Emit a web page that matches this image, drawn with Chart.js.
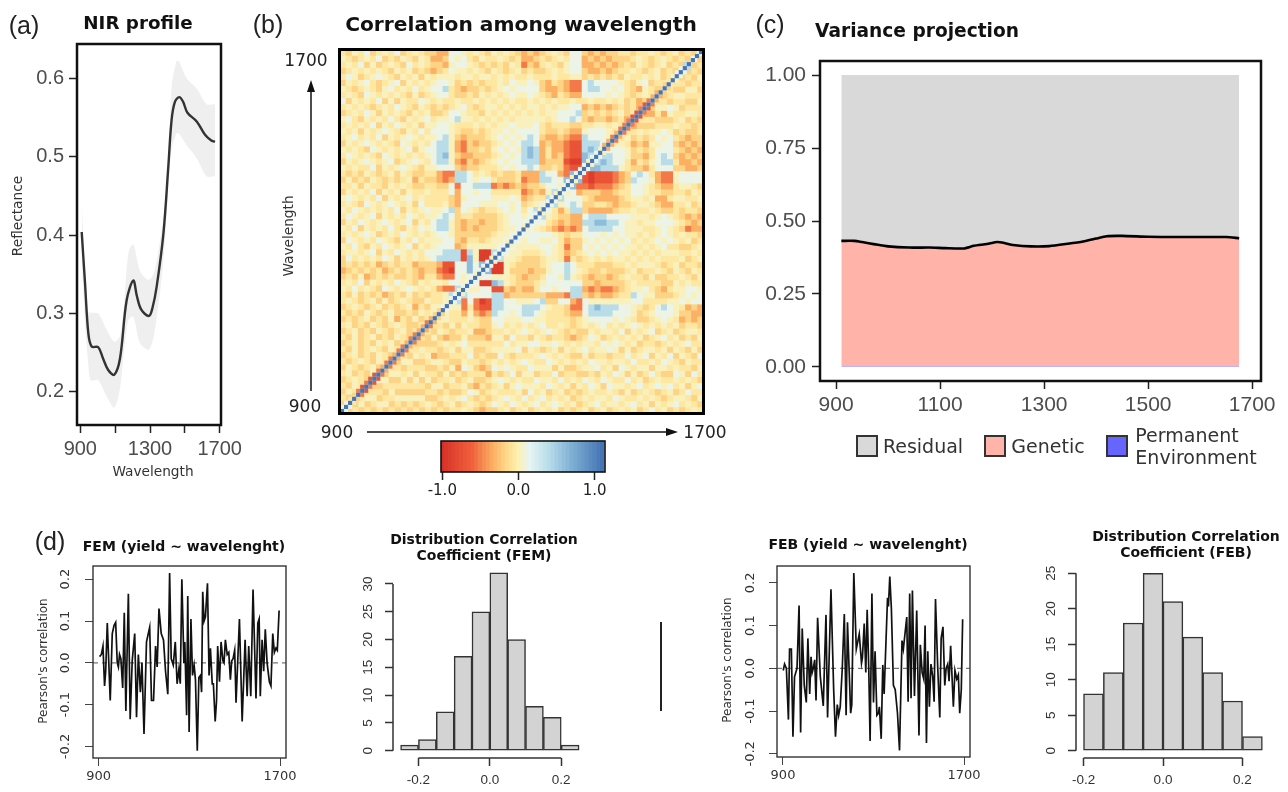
<!DOCTYPE html>
<html>
<head>
<meta charset="utf-8">
<title>NIR profile panels</title>
<script src="https://cdn.jsdelivr.net/npm/chart.js@4"></script>
<style>
  html, body { margin: 0; background: #fff; }
  #page { position: relative; width: 1288px; height: 792px; overflow: hidden; filter: blur(0.35px); }
  canvas { position: absolute; }
  .txt { position: absolute; white-space: nowrap; transform: translate(-50%, -50%); color: #222; line-height: 1; }
  .swatch { position: absolute; box-sizing: border-box; border: 2px solid #333; }
  .heatframe { position: absolute; box-sizing: border-box; border: 3.5px solid #000; }
</style>
</head>
<body>
<div id="page"></div>
<script>
// (a) NIR profile
const nirWavelength = [908, 927, 946, 965, 1003, 1030, 1060, 1095, 1128, 1166, 1204, 1225, 1250, 1294, 1315, 1338, 1377, 1405, 1424, 1443, 1468, 1490, 1515, 1568, 1616, 1650, 1673];
const nirMean = [0.404, 0.339, 0.275, 0.258, 0.257, 0.243, 0.228, 0.222, 0.243, 0.317, 0.342, 0.322, 0.305, 0.297, 0.308, 0.334, 0.402, 0.487, 0.547, 0.570, 0.576, 0.570, 0.556, 0.545, 0.528, 0.521, 0.519];
const nirBandWavelength = [908, 930, 946, 960, 1003, 1050, 1095, 1128, 1150, 1176, 1204, 1243, 1294, 1328, 1377, 1405, 1424, 1453, 1468, 1510, 1568, 1625, 1673];
const nirUpper = [0.445, 0.33, 0.302, 0.301, 0.30, 0.28, 0.264, 0.272, 0.31, 0.377, 0.388, 0.354, 0.343, 0.356, 0.424, 0.49, 0.589, 0.622, 0.621, 0.60, 0.587, 0.567, 0.567];
const nirLower = [0.368, 0.28, 0.235, 0.215, 0.215, 0.195, 0.18, 0.205, 0.25, 0.292, 0.296, 0.262, 0.254, 0.279, 0.368, 0.462, 0.509, 0.530, 0.529, 0.515, 0.498, 0.475, 0.475];
const nirXTicks = [900, 1100, 1300, 1500, 1700];
const nirXLabels = ['900', '', '1300', '', '1700'];
const nirYTicks = [0.2, 0.3, 0.4, 0.5, 0.6];

// (b) correlation, coarse cells read row by row from the top of the picture,
// only the part left of the diagonal (the matrix is symmetric)
const corrLevels = [-0.9, -0.72, -0.52, -0.33, -0.17, -0.06, 0.03, 0.12, 0.4, 0.62, 1.1];
const corrRows = [
  '546574565745654 433 776 5654 65654 343 4565 477 4343445 545565456454',
  '654565745465465 334 767 5465 56545 334 5456 577 3434344 45654565454',
  '565746456547565 443 677 6545 45465 243 5654 677 3343434 5465456454',
  '456565654656454 345 766 5654 65456 454 4565 677 4334345 565456454',
  '576456765465646 566 656 6566 56565 565 5565 566 4545454 65565645',
  '465675456746565 677 645 4545 56576 676 4354 322 7877776 5467455',
  '654565467565756 778 543 4454 56767 777 4334 322 7887767 543654',
  '565476565654645 677 544 5465 65676 676 5435 433 7777676 54565',
  '746565746465576 565 565 5656 56565 565 6565 565 5655656 4534',
  '565654565765465 454 567 5456 65656 566 5656 677 3434345 453',
  '456576465654656 445 776 5546 56565 656 5667 778 4545456 45',
  '675465657546567 566 786 6565 65656 666 6567 787 4344345 3',
  '565657465765646 677 655 5656 56676 667 5455 544 5566565',
  '656465676546575 777 654 4545 66767 777 5445 433 677765',
  '567565746567656 678 643 4445 67676 787 4334 322 87776',
  '465676565476565 788 632 4344 56767 887 3433 211 8887',
  '656547656567467 788 632 4454 67676 898 3533 211 898',
  '576565476565656 789 643 3444 56767 898 3534 211 98',
  '465676567456765 788 632 4345 67677 888 3444 100 9',
  '656557465676546 677 743 4455 56767 787 4454 211',
  '545465456465445 532 288 7565 45445 333 8773 29',
  '464546545456354 432 388 7677 54445 233 8877 9',
  '556465546565445 544 727 7888 23234 344 5776',
  '465657465646556 555 737 7677 55555 234 368',
  '676565746567565 555 436 7777 66676 345 58',
  '565476567656475 556 437 7766 67767 456 7',
  '657656565746567 667 847 6545 56767 578',
  '576567465657656 678 745 5444 45677 67',
  '465765676567465 788 643 4434 45677 7',
  '657465657546576 788 643 4344 45667',
  '565676456576565 677 644 4444 5667',
  '476565765465756 667 743 5545 667',
  '657546576567465 677 734 6666 67',
  '566567465765657 778 881 8600 8',
  '475656576465656 788 881 9600',
  '454545345455344 431 177 979',
  '345454534545434 421 077 97',
  '454634545445435 532 276 7',
  '565746565765465 665 776',
  '657565476567656 532 28',
  '546454534546454 556 8',
  '565456464565446 556',
  '456545645456354 66',
  '545465456445465 6',
  '454564546354645',
  '56454654565445',
  '4564546545645',
  '546456454654',
  '45645465645',
  '5464565465',
  '456454654',
  '54565465',
  '4654564',
  '564546',
  '45654',
  '5465',
  '465',
  '54',
  '4'
];
// coarse cells on the diagonal, and the few cells that are not mirrored
const corrCoarseDiagonal = '777777777777777777777779977777777888889977777777777777777777';
const corrUnmirrored = [[23, 21, '0'], [24, 21, '0']];
const corrDiagonal = 'aaaaaaaaaaaaaaaaaaaaaaaaaaaaaaaaaaaaaaaaaaaaaaaaaaaaaaaaaaaaaaaaaaaaaaaaaaaaaaaaaaaaaaaaaaaaaa';
const corrNearDiagonal = '77542121123223223223323447677677767776777677767776777677767776776332322211212334456778';
const colorbarValues = [-1, -0.95, -0.9, -0.85, -0.8, -0.75, -0.7, -0.65, -0.6, -0.55, -0.5, -0.45, -0.4, -0.35, -0.3, -0.25, -0.2, -0.15, -0.1, -0.05, 0, 0.05, 0.1, 0.15, 0.2, 0.25, 0.3, 0.35, 0.4, 0.45, 0.5, 0.55, 0.6, 0.65, 0.7, 0.75, 0.8, 0.85, 0.9, 0.95, 1, 1.05, 1.1];
const colorbarTicks = [-1, 0, 1];
const colorbarLabels = ['-1.0', '0.0', '1.0'];

// (c) variance projection
const varWavelength = [910, 935, 950, 975, 1000, 1040, 1080, 1110, 1145, 1165, 1190, 1210, 1225, 1240, 1275, 1310, 1345, 1375, 1400, 1420, 1450, 1500, 1550, 1600, 1650, 1675];
const permanentShare = [0.003, 0.003, 0.003, 0.003, 0.003, 0.003, 0.003, 0.003, 0.003, 0.003, 0.003, 0.003, 0.003, 0.003, 0.003, 0.003, 0.003, 0.003, 0.003, 0.003, 0.003, 0.003, 0.003, 0.003, 0.003, 0.003];
const geneticShare = [0.429, 0.429, 0.425, 0.417, 0.410, 0.406, 0.406, 0.404, 0.403, 0.412, 0.418, 0.425, 0.421, 0.415, 0.410, 0.411, 0.419, 0.427, 0.437, 0.445, 0.446, 0.443, 0.442, 0.442, 0.442, 0.438];
const residualShare = [0.568, 0.568, 0.572, 0.580, 0.587, 0.591, 0.591, 0.593, 0.594, 0.585, 0.579, 0.572, 0.576, 0.582, 0.587, 0.586, 0.578, 0.570, 0.560, 0.552, 0.551, 0.554, 0.555, 0.555, 0.555, 0.559];
const varXTicks = [900, 1100, 1300, 1500, 1700];
const varYTicks = [0, 0.25, 0.5, 0.75, 1];
const varYLabels = ['0.00', '0.25', '0.50', '0.75', '1.00'];

// (d) yield correlation by wavelength
const femWavelength = [904, 912, 919, 926, 931, 938, 951, 960, 968, 975, 982, 987, 992, 998, 1006, 1013, 1020, 1031, 1039, 1048, 1059, 1067, 1075, 1084, 1091, 1100, 1111, 1125, 1133, 1142, 1151, 1158, 1166, 1176, 1186, 1195, 1205, 1213, 1220, 1229, 1238, 1246, 1254, 1260, 1267, 1276, 1280, 1288, 1293, 1299, 1307, 1314, 1321, 1327, 1335, 1342, 1349, 1354, 1359, 1365, 1371, 1380, 1387, 1393, 1401, 1406, 1414, 1420, 1425, 1433, 1440, 1448, 1453, 1459, 1467, 1474, 1481, 1487, 1493, 1500, 1506, 1521, 1533, 1546, 1555, 1562, 1571, 1581, 1594, 1602, 1608, 1613, 1621, 1628, 1635, 1643, 1653, 1660, 1668, 1675, 1682, 1688, 1696];
const femCorr = [0.015, 0.02, 0.04, -0.055, -0.02, 0.095, -0.09, 0.07, 0.09, 0.097, 0, -0.01, 0.02, 0.01, -0.06, 0.12, -0.115, 0.165, -0.135, 0.005, 0.07, -0.13, 0.02, -0.07, 0, -0.17, 0.05, 0.085, -0.09, -0.09, 0.04, -0.01, 0.13, 0.07, 0.055, -0.02, -0.075, 0.215, 0.01, -0.005, 0.05, -0.05, -0.015, -0.05, 0.2, 0, 0.05, -0.125, 0.16, -0.165, 0.105, -0.03, -0.005, -0.04, -0.21, -0.035, -0.03, -0.07, 0.17, 0.1, 0.11, 0.19, -0.03, 0.035, -0.05, -0.05, -0.14, -0.09, 0.04, -0.045, 0.05, 0.005, 0, 0.055, 0.02, 0.025, -0.04, 0.005, 0.01, 0.03, -0.095, 0.105, -0.14, 0.055, -0.08, 0.04, -0.08, 0.175, -0.085, 0.095, 0.105, -0.08, 0.055, -0.02, 0.08, 0, -0.045, -0.055, 0.07, 0.025, 0.035, 0.03, 0.125];
const febWavelength = [901, 907, 915, 924, 929, 937, 944, 951, 962, 971, 978, 985, 994, 1003, 1010, 1018, 1024, 1029, 1034, 1040, 1046, 1053, 1065, 1078, 1090, 1097, 1112, 1124, 1132, 1140, 1146, 1153, 1162, 1171, 1179, 1185, 1199, 1204, 1213, 1224, 1237, 1247, 1251, 1259, 1266, 1272, 1279, 1285, 1293, 1300, 1307, 1315, 1322, 1326, 1334, 1341, 1347, 1362, 1366, 1372, 1379, 1388, 1396, 1406, 1415, 1426, 1432, 1447, 1453, 1460, 1466, 1472, 1481, 1491, 1501, 1507, 1515, 1522, 1528, 1534, 1540, 1547, 1554, 1562, 1568, 1574, 1584, 1593, 1599, 1607, 1615, 1621, 1628, 1634, 1641, 1653, 1660, 1668, 1675, 1681, 1688, 1694];
const febCorr = [-0.005, 0.01, 0, -0.12, 0.045, 0.045, -0.16, -0.02, 0, 0.147, -0.15, 0.093, -0.04, -0.08, 0.07, -0.06, 0.027, -0.01, 0, 0.02, -0.075, 0.118, -0.02, -0.088, 0.125, -0.115, 0.185, -0.05, -0.16, -0.085, -0.11, -0.09, 0, 0.127, -0.11, 0.108, -0.105, -0.085, 0.223, 0.045, 0.08, 0.012, 0.025, 0.105, -0.01, 0.137, 0, -0.17, 0.175, -0.08, 0.04, -0.11, -0.105, -0.09, -0.165, 0.008, -0.06, 0.165, 0.145, 0.215, 0.14, -0.04, -0.05, -0.105, -0.192, 0.065, 0.045, 0.12, -0.078, 0.175, -0.07, 0.182, -0.065, 0.135, -0.157, 0.055, -0.01, -0.025, 0.1, -0.175, 0.04, -0.09, 0.01, -0.02, -0.078, 0.162, 0, -0.115, 0.07, 0.097, -0.04, 0, 0.01, -0.03, 0.053, -0.09, -0.005, -0.025, -0.015, -0.105, -0.05, 0.115];
const corrXTicks = [900, 1700];
const corrYTicks = [-0.2, -0.1, 0, 0.1, 0.2];

const femBinCenters = [-0.225, -0.175, -0.125, -0.075, -0.025, 0.025, 0.075, 0.125, 0.175, 0.225];
const femCounts = [1, 2, 7, 17, 25, 32, 20, 8, 6, 1];
const febBinCenters = [-0.175, -0.125, -0.075, -0.025, 0.025, 0.075, 0.125, 0.175, 0.225];
const febCounts = [8, 11, 18, 25, 21, 16, 11, 7, 2];
const histXTicks = [-0.2, 0, 0.2];
const femYTicks = [0, 5, 10, 15, 20, 25, 30];
const febYTicks = [0, 5, 10, 15, 20, 25];

const SANS = '"Liberation Sans", Arial, sans-serif';
const DEJAVU = '"DejaVu Sans", sans-serif';
const page = document.getElementById('page');

// red to blue scale of the colour bar
const colorStops = [
  [-1, [215, 48, 39]], [-0.6, [240, 98, 60]], [-0.35, [251, 171, 96]], [-0.15, [253, 217, 138]],
  [0, [254, 240, 176]], [0.15, [230, 245, 243]], [0.4, [184, 221, 233]], [0.7, [127, 176, 212]], [1.1, [69, 117, 180]]
];
function corrColor(v) {
  for (let i = 1; i < colorStops.length; i++) {
    if (v <= colorStops[i][0]) {
      const [a, ca] = colorStops[i - 1], [b, cb] = colorStops[i];
      const t = Math.max(0, (v - a) / (b - a));
      return 'rgb(' + ca.map((c, k) => Math.round(c + (cb[k] - c) * t)).join(',') + ')';
    }
  }
  return 'rgb(69,117,180)';
}

const zip = (xs, ys) => xs.map((x, i) => ({ x, y: ys[i] }));
const level = ch => corrLevels[parseInt(ch, 11)];

function text(str, x, y, css, rotate) {
  const el = document.createElement('div');
  el.className = 'txt';
  el.textContent = str;
  el.style.cssText = `left:${x}px;top:${y}px;${css}` + (rotate ? ';transform:translate(-50%,-50%) rotate(-90deg)' : '');
  page.appendChild(el);
}

// box around the plot area
const framePlugin = {
  id: 'frame',
  afterDatasetsDraw(chart, args, opts) {
    if (!opts.width) return;
    const { left, top, width, height } = chart.chartArea;
    const ctx = chart.ctx;
    ctx.save();
    ctx.strokeStyle = opts.color || '#111';
    ctx.lineWidth = opts.width;
    ctx.strokeRect(left, top, width, height);
    ctx.restore();
  }
};

// base R style axis: the line only runs from first to last tick
const axisLinePlugin = {
  id: 'axisLine',
  afterDraw(chart, args, opts) {
    if (!opts.show) return;
    const { x, y } = chart.scales;
    const { left, bottom } = chart.chartArea;
    const ctx = chart.ctx;
    ctx.save();
    ctx.strokeStyle = opts.color;
    ctx.lineWidth = 1.5;
    ctx.beginPath();
    ctx.moveTo(x.getPixelForValue(x.ticks[0].value), bottom);
    ctx.lineTo(x.getPixelForValue(x.ticks[x.ticks.length - 1].value), bottom);
    ctx.moveTo(left, y.getPixelForValue(y.ticks[0].value));
    ctx.lineTo(left, y.getPixelForValue(y.ticks[y.ticks.length - 1].value));
    ctx.stroke();
    ctx.restore();
  }
};

function axis(o) {
  return {
    type: 'linear', min: o.min, max: o.max, offset: false, stacked: !!o.stacked,
    border: { display: false },
    grid: { display: true, offset: false, drawOnChartArea: false, drawTicks: true, tickLength: o.tickLen || 8, tickColor: o.tickColor || '#222', tickWidth: o.tickWidth || 1.5 },
    afterBuildTicks: s => { s.ticks = o.ticks.map(value => ({ value })); },
    afterFit: s => {
      if (o.vertical) s.width = o.size; else s.height = o.size;
      // keep the plot box where it was asked for, labels may overhang it
      s.paddingLeft = s.paddingRight = s.paddingTop = s.paddingBottom = 0;
    },
    ticks: {
      autoSkip: false, padding: o.padding === undefined ? 4 : o.padding,
      color: o.color || '#4d4d4d',
      font: { family: o.family || SANS, size: o.fontSize || 20 },
      minRotation: o.rotate ? 90 : 0, maxRotation: o.rotate ? 90 : 0,
      crossAlign: o.rotate ? 'center' : 'near',
      callback: (v, i) => o.labels ? o.labels[i] : String(v)
    }
  };
}

// box = page pixels of the plot area, margins leave room for the axes
function panel(box, type, datasets, xOpts, yOpts, plugOpts) {
  const m = { l: yOpts.size, b: xOpts.size, t: 14, r: 32 };
  const canvas = document.createElement('canvas');
  canvas.width = box.right - box.left + m.l + m.r;
  canvas.height = box.bottom - box.top + m.t + m.b;
  canvas.style.left = (box.left - m.l) + 'px';
  canvas.style.top = (box.top - m.t) + 'px';
  page.appendChild(canvas);
  new Chart(canvas, {
    type,
    data: { datasets },
    plugins: [framePlugin, axisLinePlugin],
    options: {
      responsive: false, animation: false, events: [],
      layout: { autoPadding: false, padding: { top: m.t, right: m.r, left: 0, bottom: 0 } },
      scales: { x: axis(xOpts), y: axis(Object.assign({ vertical: true }, yOpts)) },
      plugins: Object.assign({ legend: { display: false }, tooltip: { enabled: false }, title: { display: false } }, plugOpts)
    }
  });
  return canvas;
}

// ---- (a)
panel({ left: 77, right: 221, top: 44, bottom: 425 }, 'line', [
  { data: zip(nirWavelength, nirMean), borderColor: '#333', borderWidth: 2.4, pointRadius: 0, tension: 0.35, fill: false },
  { data: zip(nirBandWavelength, nirUpper), borderWidth: 0, pointRadius: 0, tension: 0.3, fill: '+1', backgroundColor: '#efefef' },
  { data: zip(nirBandWavelength, nirLower), borderWidth: 0, pointRadius: 0, tension: 0.3, fill: false }
], { min: 881, max: 1707.5, ticks: nirXTicks, labels: nirXLabels, size: 40 },
   { min: 0.1579, max: 0.6437, ticks: nirYTicks, labels: ['0.2', '0.3', '0.4', '0.5', '0.6'], size: 50, padding: 5 },
   { frame: { width: 2.5 } });

// ---- (b)
const corrCells = new Map();
const setCell = (i, j, ch) => corrCells.set(i + '_' + j, { i, j, v: level(ch) });
corrRows.forEach((row, r) => {
  const j = 59 - r;
  row.replace(/ /g, '').split('').forEach((ch, i) => {
    setCell(i, j, ch);
    setCell(j, i, ch);
  });
});
corrCoarseDiagonal.split('').forEach((ch, k) => setCell(k, k, ch));
corrUnmirrored.forEach(([i, j, ch]) => setCell(i, j, ch));
const coarseList = [...corrCells.values()];
const coarseAt = k => 900 + (k + 0.5) * 800 / 60;
const fineAt = k => 900 + (k + 0.5) * 800 / 90;
const nearCells = [];
corrNearDiagonal.split('').forEach((ch, k) => {
  nearCells.push({ x: fineAt(k + 1), y: fineAt(k), v: level(ch) });
  nearCells.push({ x: fineAt(k), y: fineAt(k + 1), v: level(ch) });
});
const heatCanvas = panel({ left: 340, right: 703, top: 50, bottom: 413 }, 'scatter', [
  { data: corrDiagonal.split('').map((ch, k) => ({ x: fineAt(k), y: fineAt(k) })), pointStyle: 'rect', pointRadius: 2.9, pointBorderWidth: 0,
    pointBackgroundColor: corrDiagonal.split('').map(ch => corrColor(level(ch))) },
  { data: nearCells, pointStyle: 'rect', pointRadius: 2.9, pointBorderWidth: 0, pointBackgroundColor: nearCells.map(c => corrColor(c.v)) },
  { data: coarseList.map(c => ({ x: coarseAt(c.i), y: coarseAt(c.j) })), pointStyle: 'rect', pointRadius: 4.7, pointBorderWidth: 0,
    pointBackgroundColor: coarseList.map(c => corrColor(c.v)) }
], { min: 900, max: 1700, ticks: [], size: 2, tickLen: 1 },
   { min: 900, max: 1700, ticks: [], size: 2, tickLen: 1 },
   {});
heatCanvas.style.filter = 'blur(0.7px)';
const heatFrame = document.createElement('div');
heatFrame.className = 'heatframe';
heatFrame.style.cssText = 'left:338px;top:48px;width:367px;height:367px';
page.appendChild(heatFrame);

// colour bar
panel({ left: 441, right: 605, top: 441, bottom: 472 }, 'bar', [
  { data: colorbarValues.map(v => ({ x: v, y: 1 })), backgroundColor: colorbarValues.map(corrColor), borderWidth: 0, barPercentage: 1, categoryPercentage: 1 }
], { min: -1.017, max: 1.137, ticks: colorbarTicks, labels: colorbarLabels, size: 34, family: DEJAVU, fontSize: 15, color: '#222', padding: 2, tickLen: 8 },
   { min: 0, max: 1, ticks: [], size: 30, tickLen: 1 },
   { frame: { width: 1.6, color: '#111' } });

// ---- (c)
panel({ left: 820, right: 1261, top: 61, bottom: 381 }, 'line', [
  { data: zip(varWavelength, permanentShare), borderWidth: 0, pointRadius: 0, tension: 0.2, fill: 'origin', backgroundColor: '#b9b6ff' },
  { data: zip(varWavelength, geneticShare), borderColor: '#000', borderWidth: 2.6, pointRadius: 0, tension: 0.2, fill: '-1', backgroundColor: '#ffb3a9' },
  { data: zip(varWavelength, residualShare), borderWidth: 0, pointRadius: 0, tension: 0.2, fill: '-1', backgroundColor: '#d9d9d9' }
], { min: 869, max: 1717, ticks: varXTicks, size: 40, fontSize: 21 },
   { min: -0.048, max: 1.048, ticks: varYTicks, labels: varYLabels, size: 64, stacked: true, fontSize: 21, padding: 6 },
   { frame: { width: 2.5 } });

// ---- (d)
const lineAxisX = { ticks: corrXTicks, size: 32, family: DEJAVU, fontSize: 13, color: '#333', padding: 3, tickLen: 8, tickColor: '#444', tickWidth: 1 };
const lineAxisY = { ticks: corrYTicks, labels: ['-0.2', '-0.1', '0.0', '0.1', '0.2'], size: 36, family: DEJAVU, fontSize: 13, color: '#333', rotate: true, tickLen: 8, tickColor: '#444', tickWidth: 1 };
function corrLine(xs, ys, xMin, xMax) {
  return [
    { data: zip(xs, ys), borderColor: '#111', borderWidth: 1.7, pointRadius: 0, tension: 0, fill: false },
    { data: [{ x: xMin, y: 0 }, { x: xMax, y: 0 }], borderColor: '#777', borderWidth: 1.2, borderDash: [5, 4], pointRadius: 0, fill: false }
  ];
}
panel({ left: 93.3, right: 286.7, top: 566, bottom: 758.3 }, 'line', corrLine(femWavelength, femCorr, 875, 1726),
  Object.assign({ min: 875, max: 1726.4 }, lineAxisX), Object.assign({ min: -0.2274, max: 0.2315, padding: 6.5 }, lineAxisY),
  { frame: { width: 1.4, color: '#333' } });
panel({ left: 776.7, right: 970, top: 566, bottom: 757.7 }, 'line', corrLine(febWavelength, febCorr, 873.5, 1726),
  Object.assign({ min: 873.5, max: 1726.5 }, lineAxisX), Object.assign({ min: -0.2075, max: 0.2394, padding: 6 }, lineAxisY),
  { frame: { width: 1.4, color: '#333' } });

const histAxisX = { ticks: histXTicks, labels: ['-0.2', '0.0', '0.2'], size: 36, fontSize: 13.5, color: '#333', padding: 6, tickLen: 8, tickColor: '#333', tickWidth: 1.5 };
function histBars(centers, counts) {
  return [{ data: zip(centers, counts), backgroundColor: '#d3d3d3', borderColor: '#333', borderWidth: 1.5, borderSkipped: false, barPercentage: 1, categoryPercentage: 1 }];
}
panel({ left: 392.7, right: 590, top: 572, bottom: 758.3 }, 'bar', histBars(femBinCenters, femCounts),
  Object.assign({ min: -0.2713, max: 0.2806 }, histAxisX),
  { min: -1.311, max: 32.15, ticks: femYTicks, size: 36, fontSize: 13.5, color: '#333', rotate: true, padding: 9, tickLen: 8, tickColor: '#333' },
  { axisLine: { show: true, color: '#333' } });
panel({ left: 1076, right: 1270, top: 572, bottom: 758.3 }, 'bar', histBars(febBinCenters, febCounts),
  Object.assign({ min: -0.2189, max: 0.2692 }, histAxisX),
  { min: -1.027, max: 25.18, ticks: febYTicks, size: 36, fontSize: 13.5, color: '#333', rotate: true, padding: 9.5, tickLen: 8, tickColor: '#333' },
  { axisLine: { show: true, color: '#333' } });

// ---- text around the panels
const tagCss = `font:25px ${SANS};color:#222`;
text('(a)', 24, 25, tagCss);
text('(b)', 268, 24, tagCss);
text('(c)', 770, 24, tagCss);
text('(d)', 50, 541, tagCss);
text('NIR profile', 138, 22, `font:bold 18.3px ${DEJAVU};color:#111`);
text('Correlation among wavelength', 521, 24, `font:bold 20.2px ${DEJAVU};color:#111`);
text('Variance projection', 917, 30, `font:bold 18.6px ${DEJAVU};color:#111`);
const smallHead = `font:bold 14px ${DEJAVU};color:#111`;
text('FEM (yield ~ wavelenght)', 184, 545.5, smallHead);
text('FEB (yield ~ wavelenght)', 868, 544, smallHead);
text('Distribution Correlation', 484, 538.5, smallHead);
text('Coefficient (FEM)', 484, 555, smallHead);
text('Distribution Correlation', 1186, 536, smallHead);
text('Coefficient (FEB)', 1186, 552, smallHead);
const axisCss = `font:13.7px ${DEJAVU};color:#333`;
text('Reflectance', 17, 216, axisCss, true);
text('Wavelength', 153, 471, axisCss);
text('Wavelength', 288, 236, axisCss, true);
const pearsonCss = `font:12px ${DEJAVU};color:#333`;
text("Pearson's correlation", 43, 661, pearsonCss, true);
text("Pearson's correlation", 727, 660, pearsonCss, true);
const endCss = `font:17px ${DEJAVU};color:#222`;
text('1700', 306, 60, endCss);
text('900', 305, 406, endCss);
text('900', 337, 432, endCss);
text('1700', 705, 432, endCss);

// arrows along panel (b) and the stray rule between the histograms
const svgNS = 'http://www.w3.org/2000/svg';
const overlay = document.createElementNS(svgNS, 'svg');
overlay.setAttribute('width', 1288);
overlay.setAttribute('height', 792);
overlay.style.cssText = 'position:absolute;left:0;top:0;pointer-events:none';
overlay.innerHTML = `
  <line x1="367" y1="432" x2="670" y2="432" stroke="#111" stroke-width="1.5"/>
  <polygon points="678,432 666,428 666,436" fill="#111"/>
  <line x1="311" y1="391" x2="311" y2="88" stroke="#111" stroke-width="1.5"/>
  <polygon points="311,80 307,92 315,92" fill="#111"/>
  <line x1="661" y1="622" x2="661" y2="711" stroke="#222" stroke-width="2"/>`;
page.appendChild(overlay);

// legend of panel (c)
const legendCss = `font:19px ${DEJAVU};color:#333`;
[['#d9d9d9', 856], ['#ffb3a9', 984], ['#6666ff', 1106]].forEach(([color, x]) => {
  const s = document.createElement('div');
  s.className = 'swatch';
  s.style.cssText = `left:${x}px;top:435px;width:22px;height:22px;background:${color}`;
  page.appendChild(s);
});
text('Residual', 923, 446, legendCss);
text('Genetic', 1048, 446, legendCss);
text('Permanent', 1187, 435, legendCss);
text('Environment', 1196, 457, legendCss);
</script>
</body>
</html>
